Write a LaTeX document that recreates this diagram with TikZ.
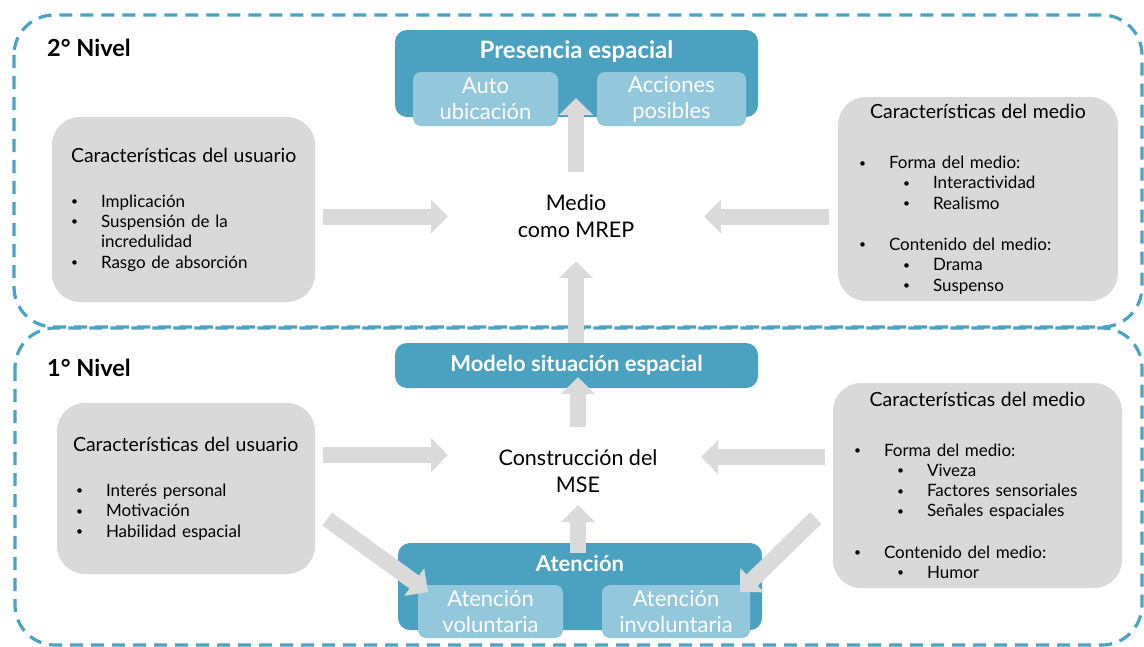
\documentclass[tikz,border=0pt]{standalone}
\usepackage{fontspec}
\setmainfont{Lato}
\usetikzlibrary{arrows.meta}

\definecolor{boxblue}{HTML}{4AA1C0}
\definecolor{paleblue}{HTML}{93C7DB}
\definecolor{boxgray}{HTML}{D9D9D9}
\definecolor{arrowgray}{HTML}{DADADA}
\definecolor{frameblue}{HTML}{4BA3C3}

% small bullet with a fixed indent, and a second-level bullet
\newcommand\smallbullet{\raisebox{1.6pt}{\fontsize{12}{12}\selectfont •}}
\newcommand\bul{\makebox[30pt][l]{\smallbullet}}
\newcommand\subbul{\hspace*{44pt}\makebox[30pt][l]{\smallbullet}}
\newcommand\boxhead[1]{\mbox{\fontsize{19.5}{20.3}\selectfont #1}}

\begin{document}
\begin{tikzpicture}[x=1pt,y=-1pt,
  levelframe/.style={draw=frameblue, line width=3.2pt, dash pattern=on 13pt off 8pt, rounded corners=40pt},
  graybox/.style={fill=boxgray, rounded corners=28pt, align=left, inner ysep=0pt,
                  font=\fontsize{17}{20.3}\selectfont},
  darkbox/.style={fill=boxblue, rounded corners=12pt, inner sep=0pt},
  palebox/.style={fill=paleblue, rounded corners=8pt, inner sep=0pt, align=center,
                  text=white, font=\fontsize{22}{26}\selectfont},
  boxtitle/.style={text=white, inner sep=0pt, font=\bfseries\fontsize{22}{26}\selectfont},
  midtext/.style={align=center, inner sep=0pt, font=\fontsize{21.5}{27}\selectfont},
  levellabel/.style={anchor=west, inner sep=0pt, font=\bfseries\fontsize{23.5}{27}\selectfont},
  bigarrow/.style={draw=arrowgray, line width=16pt, line cap=butt,
                   -{Triangle[width=33pt,length=17pt]}}
]
\useasboundingbox (0,0) rectangle (1144,646);

% the two dashed level frames
\draw[levelframe] (14,15) rectangle (1142,327);
\draw[levelframe] (15,328) rectangle (1142,645);

% ---------- second level ----------
\node[levellabel] (lvl2) at (47,48) {2° Nivel};
\node[darkbox, minimum width=363pt, minimum height=87pt] (presencia) at (576.5,73.5) {};
\node[boxtitle, font=\bfseries\fontsize{24}{28}\selectfont] (presencia-t) at (576.5,52) {Presencia espacial};
\node[palebox, minimum width=145pt, minimum height=54pt] (autoub) at (485.5,99) {Auto\\ubicación};
\node[palebox, minimum width=149pt, minimum height=54pt] (acciones) at (671.5,99) {Acciones\\posibles};
\node[midtext, minimum width=256pt, minimum height=89pt] (medio) at (576,216.5) {Medio\\como MREP};

\node[graybox, minimum width=263pt, minimum height=185pt, text width=225pt, inner xsep=19pt] (usrA) at (183.5,209.5)
  {\boxhead{Características del usuario}\\[24.7pt]
   \bul Implicación\\
   \bul Suspensión de la\\
   \hspace*{30pt}incredulidad\\
   \bul Rasgo de absorción};

\node[graybox, minimum width=280pt, minimum height=204pt, text width=238pt, inner xsep=21pt] (medA) at (978,199)
  {\makebox[238pt][c]{\boxhead{Características del medio}}\\[30pt]
   \bul Forma del medio:\\
   \subbul Interactividad\\
   \subbul Realismo\\[21pt]
   \bul Contenido del medio:\\
   \subbul Drama\\
   \subbul Suspenso};

% ---------- first level ----------
\node[levellabel] (lvl1) at (47,368) {1° Nivel};
\node[darkbox, minimum width=363pt, minimum height=45pt, text=white,
      font=\bfseries\fontsize{22}{26}\selectfont] (modelo) at (576.5,365.5) {Modelo situación espacial};
\node[midtext] (constr) at (578,471.5) {Construcción del\\MSE};
\node[darkbox, minimum width=364pt, minimum height=87pt] (atencion) at (580,586.5) {};
\node[boxtitle] (atencion-t) at (580,563) {Atención};
\node[palebox, minimum width=145pt, minimum height=53pt] (volunt) at (490.5,611.5) {Atención\\voluntaria};
\node[palebox, minimum width=148pt, minimum height=53pt] (involunt) at (676,611.5) {Atención\\involuntaria};

\node[graybox, minimum width=258pt, minimum height=171pt, text width=226pt, inner xsep=16pt] (usrB) at (186,488.5)
  {\boxhead{Características del usuario}\\[25pt]
   \hspace*{3pt}\bul Interés personal\\
   \hspace*{3pt}\bul Motivación\\
   \hspace*{3pt}\bul Habilidad espacial};

\node[graybox, minimum width=289pt, minimum height=205pt, text width=247pt, inner xsep=21pt] (medB) at (977.5,485.5)
  {\makebox[247pt][c]{\boxhead{Características del medio}}\\[29pt]
   \bul Forma del medio:\\
   \hspace*{-1pt}\subbul Viveza\\
   \hspace*{-1pt}\subbul Factores sensoriales\\
   \hspace*{-1pt}\subbul Señales espaciales\\[21pt]
   \bul Contenido del medio:\\
   \hspace*{-1pt}\subbul Humor};

% arrow ends around the central texts
\coordinate (presTip) at (576,98);
\coordinate (cLeft) at (448,455);
\coordinate (cRight) at (701,457);
\coordinate (cTop) at (578,427);
\coordinate (cBottom) at (578,505);
\coordinate (modTip) at (578,377);
\coordinate (volTip) at (428,592);
\coordinate (invTip) at (740,592);

% ---------- connectors ----------
\draw[bigarrow, shorten <=8pt] (usrA.east |- medio.west) -- (medio.west);
\draw[bigarrow, shorten <=9pt] (medA.west |- medio.east) -- (medio.east);
\draw[bigarrow] (medio.north) -- (presTip);
\draw[bigarrow] (medio.south |- modelo.north) -- (medio.south);

\draw[bigarrow, shorten <=8pt] (usrB.east |- cLeft) -- (cLeft);
\draw[bigarrow, shorten <=8pt] (medB.west |- cRight) -- (cRight);
\draw[bigarrow] (cTop) -- (modTip);
\draw[bigarrow, shorten <=-10pt] (cBottom |- atencion.north) -- (cBottom);
\draw[bigarrow] ([shift={(12,30.5)}]usrB.east) -- (volTip);
\draw[bigarrow] ([shift={(-17,32.5)}]medB.west) -- (invTip);

\end{tikzpicture}
\end{document}
